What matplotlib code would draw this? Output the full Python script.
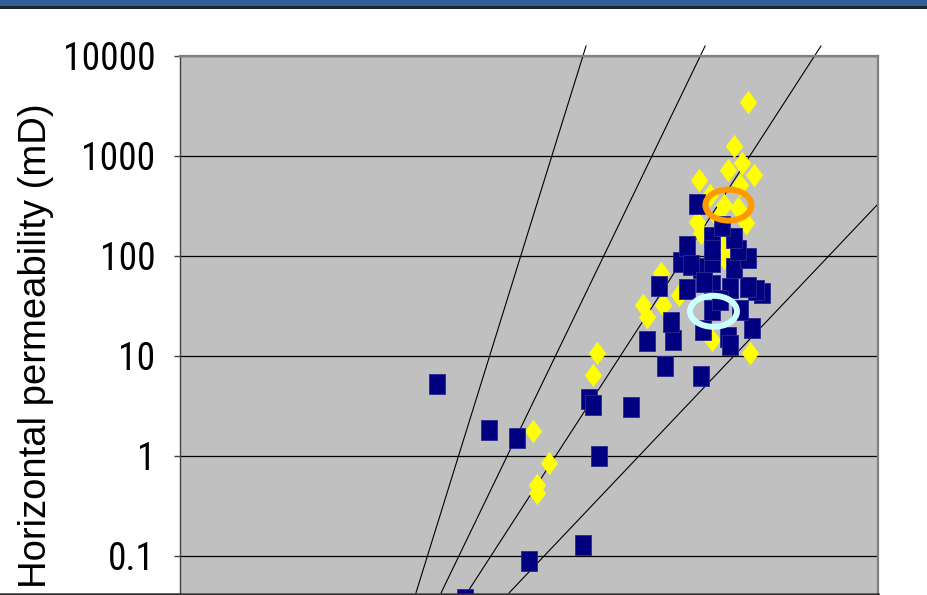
import numpy as np
import matplotlib
matplotlib.use("Agg")
import matplotlib.pyplot as plt
from matplotlib import font_manager
from matplotlib.font_manager import FontProperties
from matplotlib.patches import Ellipse, Rectangle
from matplotlib.lines import Line2D
from matplotlib.transforms import ScaledTranslation

# ---------------- data (porosity %, horizontal permeability mD) ----------------
blue_x = [12.9, 15.5, 16.9, 17.5, 14.3, 20.2, 20.5, 20.7, 21.0, 22.6, 24.3, 23.4, 24.7, 24.6,
          24.0, 25.4, 25.1, 25.4, 25.9, 26.1, 26.2, 26.7, 27.5, 27.6, 28.7, 29.2, 28.9, 28.5,
          27.6, 26.7, 26.1, 26.7, 27.8, 28.5, 28.0, 27.8, 26.7, 27.2, 26.7, 25.6, 26.3, 27.1, 28.1]
blue_k = [5.3, 1.8, 1.5, 0.09, 0.037, 0.13, 3.7, 3.2, 1.0, 3.1, 7.9, 14, 14.5, 22,
          50, 47, 87, 125, 330, 6.3, 18, 29, 15.5, 13, 19, 43, 46, 49,
          48, 51, 76, 87, 76, 96, 115, 150, 155, 200, 115, 81, 55, 36, 29]

yellow_x = [28.5, 27.8, 28.2, 27.5, 28.8, 26.0, 28.1, 26.6, 27.3, 28.0, 25.9, 27.0, 28.4, 27.2,
            27.3, 24.1, 23.2, 23.4, 24.2, 25.0, 26.7, 28.6, 20.9, 20.7, 17.7, 18.5, 17.9, 17.9,
            26.1, 27.5]
yellow_k = [3470, 1260, 850, 720, 650, 575, 510, 410, 324, 302, 219, 240, 214, 129,
            95, 68, 32, 24.5, 32, 41, 14.5, 10.7, 10.7, 6.5, 1.78, 0.85, 0.51, 0.43,
            170, 115]

# reference lines: (x_top, k_top, x_bottom, k_bottom)
line1 = [20.36, 12590, 11.83, 0.0427]
line2 = [26.33, 12590, 13.09, 0.0427]
line3 = [32.14, 12590, 14.39, 0.0427]
line4 = [35.0, 331, 16.50, 0.0427]

orange_center = (27.5, 323)
cyan_center = (26.75, 28)

ytick_vals = [0.1, 1, 10, 100, 1000, 10000]
ytick_labels = ["0.1", "1", "10", "100", "1000", "10000"]
ylabel_text = "Horizontal permeability (mD)"

# ---------------- fonts ----------------
tick_fp = None
prefs = ["Liberation Sans Narrow", "Arial Narrow", "Roboto Condensed", "Open Sans Condensed",
         "DejaVu Sans Condensed", "Noto Sans Condensed", "Roboto", "Open Sans", "Noto Sans",
         "Inter", "Lato", "DejaVu Sans"]
cands = []
for f in font_manager.fontManager.ttflist:
    st = str(f.stretch)
    if (st in ("condensed", "semi-condensed", "extra-condensed") or
            "Condensed" in f.name or "Narrow" in f.name):
        if f.style == "normal" and (f.weight in (400, "normal", "regular")):
            rank = prefs.index(f.name) if f.name in prefs else len(prefs)
            cands.append((rank, f.fname))
if cands:
    cands.sort()
    tick_fp = FontProperties(fname=cands[0][1], size=27)
else:
    tick_fp = FontProperties(family="Liberation Sans", size=22)

# ---------------- figure ----------------
W, H = 928, 595
fig = plt.figure(figsize=(W / 100, H / 100), dpi=100)
fig.patch.set_facecolor("white")

ax_left, ax_right, ax_top, ax_bot = 180, 878, 56, 593
ax = fig.add_axes([ax_left / W, (H - ax_bot) / H, (ax_right - ax_left) / W, (ax_bot - ax_top) / H])
ax.set_facecolor("#C0C0C0")
ax.set_yscale("log")
ax.set_xlim(0, 35)
ax.set_ylim(10 ** (4 - (ax_bot - ax_top) / 100), 1e4)

ax.set_yticks(ytick_vals)
ax.set_yticklabels(ytick_labels, fontproperties=tick_fp, color="black")
ax.yaxis.set_minor_locator(matplotlib.ticker.NullLocator())
ax.set_xticks([])
ax.tick_params(axis="y", length=6 * 0.72, width=1.0, color="#404040", pad=13.5)

ax.yaxis.grid(True, color="black", lw=0.9)
ax.set_axisbelow(True)

for s in ["top", "right"]:
    ax.spines[s].set_color("#808080")
    ax.spines[s].set_linewidth(1.6)
ax.spines["left"].set_color("#404040")
ax.spines["left"].set_linewidth(1.0)
ax.spines["bottom"].set_visible(False)

# reference lines
for ln in [line1, line2, line3, line4]:
    ax.plot([ln[0], ln[2]], [ln[1], ln[3]], color="black", lw=0.8, clip_on=False, zorder=2)

# markers
diamond = [(0, -0.5), (0.37, 0), (0, 0.5), (-0.37, 0), (0, -0.5)]
rect = [(-0.4, -0.5), (0.4, -0.5), (0.4, 0.5), (-0.4, 0.5), (-0.4, -0.5)]
ax.plot(yellow_x, yellow_k, linestyle="none", marker=diamond, ms=16, mfc="#FFFF00",
        mec="#FFFF00", mew=0.5, zorder=3)
ax.plot(blue_x, blue_k, linestyle="none", marker=rect, ms=14.6, mfc="#000080",
        mec="#2a2a90", mew=0.6, zorder=4)

# ellipses
for (cx, cy), col, w, h, lw in [(orange_center, "#FF9900", 46, 31, 6),
                                (cyan_center, "#CCFFFF", 47, 31, 6)]:
    e = Ellipse((0, 0), w / 100, h / 100,
                transform=fig.dpi_scale_trans + ScaledTranslation(cx, cy, ax.transData),
                fill=False, edgecolor=col, lw=lw * 0.72, zorder=6)
    ax.add_artist(e)

# y label
fig.text(36 / W, 1 - 346 / H, ylabel_text, rotation=90, ha="center", va="center",
         fontsize=27.5, family="Liberation Sans", color="black")

# top banner and bottom rule
fig.add_artist(Rectangle((0, 1 - 6 / H), 1, 6 / H, transform=fig.transFigure,
                         facecolor="#2F5F98", edgecolor="none"))
fig.add_artist(Rectangle((0, 1 - 8.5 / H), 1, 2.5 / H, transform=fig.transFigure,
                         facecolor="#1E2430", edgecolor="none"))
fig.add_artist(Line2D([0, ax_right / W], [1.5 / H, 1.5 / H], transform=fig.transFigure,
                      color="#303030", lw=1.8))

fig.savefig("out.png", dpi=100)
